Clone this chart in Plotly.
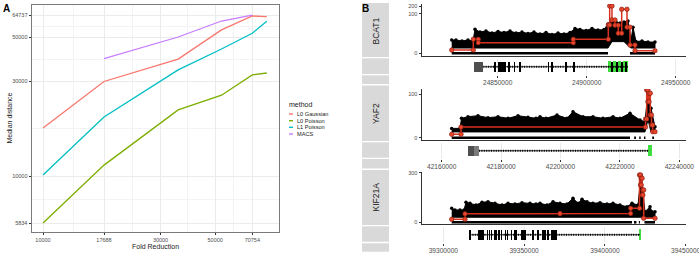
import numpy as np
import plotly.graph_objects as go

W, H = 699, 255
FONT = "Liberation Sans, Arial, Helvetica, sans-serif"


def fx(p):
    return p / W


def fy(p):
    return 1 - p / H


# ---------------- Panel A data ----------------
methods = ["L0 Gaussian", "L0 Poisson", "L1 Poisson", "MACS"]
fold_reduction = [10000, 17688, 35376, 53064, 70754, 81000]
l0_gaussian = [17500, 30000, 38900, 54500, 64000, 63500]
l0_poisson = [5834, 11400, 21600, 25600, 32400, 33100]
l1_poisson = [10160, 19900, 34300, 43700, 52400, 60300]
macs_fold_reduction = [17688, 35376, 53064, 70754]
macs = [39100, 50200, 60400, 64737]
x_ticks_A = [10000, 17688, 30000, 50000, 70754]
y_ticks_A = [5834, 10000, 30000, 50000, 64737]

# ---------------- Panel B data ----------------
gene_names = ["BCAT1", "YAF2", "KIF21A"]
pseudo = 3.0

# BCAT1
bcat1_env_pos = [24824160, 24826570, 24829940, 24833310, 24836120, 24837250, 24840060, 24843430,
                 24846800, 24850170, 24853540, 24856910, 24860280, 24863650, 24867020, 24870390,
                 24873760, 24877140, 24880510, 24883880, 24887250, 24890620, 24893430, 24896240,
                 24899610, 24902980, 24906350, 24909720, 24911970, 24914220, 24916460, 24918710,
                 24920960, 24923200, 24924890, 24926010, 24927700, 24931070, 24934440, 24938370]
bcat1_env_top = [6.8, 6.8, 6.0, 6.8, 6.0, 22.6, 17, 19, 15.4, 18, 16.2, 19, 15.4, 17, 14.6, 17,
                 13.8, 16.2, 13.1, 15.4, 13.8, 16.2, 24.5, 22, 20, 24.5, 21, 22, 38, 56, 46, 42,
                 46, 51, 6.8, 28, 5.6, 6.0, 5.2, 5.2]
bcat1_env_low = [1.8] * 29 + [5.5, 5.5, 5.5, 5.5, 3.0] + [1.8] * 6
bcat1_zero_start = [24824160, 24924330]
bcat1_zero_end = [24911970, 24938370]
bcat1_seg_bounds = [24824160, 24836290, 24839100, 24892470, 24912135, 24912920, 24914210,
                    24915900, 24917750, 24919660, 24922640, 24924330, 24927140, 24938370]
bcat1_seg_means = [1.0, 7.5, 4.7, 7.5, 34.5, 202, 56, 34, 15, 150, 28, 3.3, 0.8]
bcat1_intron = [24841910, 24923200]
bcat1_utr_start = [24836850]
bcat1_utr_end = [24841910]
bcat1_exon_start = [24848330, 24850580, 24851310, 24852100, 24853390, 24853950, 24856200,
                    24859180, 24862380, 24878280, 24880190, 24888220, 24892720, 24913900,
                    24916700, 24919510, 24921930]
bcat1_exon_end = [24848900, 24851000, 24851750, 24852550, 24853800, 24854400, 24856700,
                  24859650, 24862850, 24878750, 24880650, 24888650, 24893150, 24914400,
                  24917200, 24920000, 24922450]
bcat1_green_start = [24911970, 24914780, 24917590, 24920390]
bcat1_green_end = [24913650, 24916460, 24919270, 24923200]
bcat1_xticks = [24850000, 24900000, 24950000]
bcat1_yticks = [0, 100, 200]

# YAF2
yaf2_env_pos = [42163370, 42166160, 42166670, 42168860, 42172220, 42175590, 42178960, 42182320,
                42185690, 42189060, 42191750, 42193100, 42195120, 42198820, 42202190, 42204210,
                42207580, 42210940, 42214310, 42217680, 42220030, 42223400, 42226770, 42228450,
                42229460, 42230470, 42231820]
yaf2_env_top = [3.4, 3.4, 11.6, 13.6, 15, 12.3, 13.6, 11.6, 15, 12.8, 11.6, 13.6, 11.6, 16,
                11.6, 22, 13.6, 13.6, 11.6, 13.6, 11.6, 18.9, 9.7, 8, 120, 30, 4.3]
yaf2_env_low = [1.8] * 24 + [10, 1.8, 1.8]
yaf2_zero_start = [42163370, 42224800, 42226500, 42228100, 42230900]
yaf2_zero_end = [42223400, 42225400, 42227000, 42228600, 42231500]
yaf2_seg_bounds = [42163370, 42166500, 42228620, 42229020, 42229430, 42229830, 42230240,
                   42230640, 42231040, 42231820]
yaf2_seg_means = [0.95, 4.1, 10.8, 143, 53, 109, 16, 5.4, 1.9]
yaf2_intron = [42172560, 42229560]
yaf2_utr_start = [42168960, 42171040]
yaf2_utr_end = [42171040, 42172560]
yaf2_exon_start = []
yaf2_exon_end = []
yaf2_green_start = [42229360]
yaf2_green_end = [42230910]
yaf2_xticks = [42160000, 42180000, 42200000, 42220000, 42240000]
yaf2_yticks = [0, 100]

# KIF21A
kif21a_env_pos = [39305200, 39307240, 39310330, 39312810, 39314050, 39316520, 39320230, 39323950,
                  39327660, 39331990, 39336320, 39340040, 39344370, 39348700, 39353650, 39357360,
                  39359840, 39364170, 39367880, 39372210, 39376550, 39380260, 39383350, 39385830,
                  39388920, 39392630, 39396970, 39401300, 39405010, 39409340, 39413670, 39416770,
                  39420480, 39422340, 39424810, 39427910, 39429140, 39431000]
kif21a_env_top = [8.0, 6.4, 6.4, 6.4, 16.3, 14.6, 12, 16.3, 17.4, 14.6, 12, 14.6, 13.5, 15.6,
                  14.6, 13.5, 14.6, 12, 17.4, 14.6, 13.5, 25, 14.6, 22.5, 17.4, 14.6, 15.6, 13.5,
                  14.6, 12, 9.8, 14.6, 12, 240, 5, 9.8, 5, 5]
kif21a_env_low = [1.8] * 38
kif21a_zero_start = [39305200, 39418000, 39421000, 39424500]
kif21a_zero_end = [39416770, 39419500, 39421700, 39431000]
kif21a_seg_bounds = [39305200, 39313430, 39372210, 39415960, 39421410, 39422030, 39422520,
                     39423020, 39423510, 39424010, 39431000]
kif21a_seg_means = [0.97, 3.6, 3.8, 8.0, 242, 93, 177, 35, 58, 1.36]
kif21a_intron = [39316520, 39421720]
kif21a_utr_start = []
kif21a_utr_end = []
kif21a_exon_start = [39316200, 39321800, 39323050, 39324450, 39327150, 39328400, 39329650,
                     39331550, 39332700, 39334150, 39335800, 39338250, 39339500, 39342000,
                     39344000, 39345100, 39348150, 39349150, 39350200, 39355350, 39358450,
                     39361500, 39362600, 39364600, 39366700, 39367750, 39368800, 39369800]
kif21a_exon_end = [39316750, 39322300, 39323500, 39324950, 39327600, 39328850, 39330100,
                   39332150, 39333150, 39334600, 39336250, 39338700, 39339950, 39342450,
                   39344450, 39345550, 39348600, 39349600, 39350650, 39355800, 39358900,
                   39361950, 39363050, 39365050, 39367150, 39368200, 39369250, 39370250]
kif21a_green_start = [39421400]
kif21a_green_end = [39422400]
kif21a_xticks = [39300000, 39350000, 39400000, 39450000]
kif21a_yticks = [0, 300]


def tr(v):
    return np.log10(1 + np.asarray(v, dtype=float) / pseudo)


genes = [
    dict(name="BCAT1", env_pos=bcat1_env_pos, env_top=bcat1_env_top, env_low=bcat1_env_low,
         zs=bcat1_zero_start, ze=bcat1_zero_end, sb=bcat1_seg_bounds, sm=bcat1_seg_means,
         intron=bcat1_intron, us=bcat1_utr_start, ue=bcat1_utr_end, es=bcat1_exon_start,
         ee=bcat1_exon_end, gs=bcat1_green_start, ge=bcat1_green_end,
         xt=bcat1_xticks, yt=bcat1_yticks),
    dict(name="YAF2", env_pos=yaf2_env_pos, env_top=yaf2_env_top, env_low=yaf2_env_low,
         zs=yaf2_zero_start, ze=yaf2_zero_end, sb=yaf2_seg_bounds, sm=yaf2_seg_means,
         intron=yaf2_intron, us=yaf2_utr_start, ue=yaf2_utr_end, es=yaf2_exon_start,
         ee=yaf2_exon_end, gs=yaf2_green_start, ge=yaf2_green_end,
         xt=yaf2_xticks, yt=yaf2_yticks),
    dict(name="KIF21A", env_pos=kif21a_env_pos, env_top=kif21a_env_top, env_low=kif21a_env_low,
         zs=kif21a_zero_start, ze=kif21a_zero_end, sb=kif21a_seg_bounds, sm=kif21a_seg_means,
         intron=kif21a_intron, us=kif21a_utr_start, ue=kif21a_utr_end, es=kif21a_exon_start,
         ee=kif21a_exon_end, gs=kif21a_green_start, ge=kif21a_green_end,
         xt=kif21a_xticks, yt=kif21a_yticks),
]

# layout geometry (pixels)
sig_dom = [(4, 56), (89, 139.5), (172, 224)]
sig_yrange = [(-0.105, 1.912), (-0.064, 1.723), (-0.069, 2.032)]
gene_dom = [(59, 74.5), (143, 158.5), (227, 242.5)]
x_ranges = [(24807470, 24955790), (42153370, 42242256), (39286820, 39450183)]
strip_rows = [[(3, 57), (58.3, 74), (75.3, 84)],
              [(85.5, 141), (142.3, 157.7), (159, 168.5)],
              [(170, 225), (226.3, 241.7), (243.3, 251.7)]]
strip_label_y = [31, 113.5, 197]

fig = go.Figure()

# ---------------- Panel A traces ----------------
colors = {"L0 Gaussian": "#F8766D", "L0 Poisson": "#7CAE00",
          "L1 Poisson": "#00BFC4", "MACS": "#C77CFF"}
series_A = [("L0 Gaussian", fold_reduction, l0_gaussian),
            ("L0 Poisson", fold_reduction, l0_poisson),
            ("L1 Poisson", fold_reduction, l1_poisson),
            ("MACS", macs_fold_reduction, macs)]
for name, xs, ys in series_A:
    fig.add_trace(go.Scatter(x=xs, y=ys, mode="lines", name=name,
                             line=dict(color=colors[name], width=1.3),
                             xaxis="x", yaxis="y", showlegend=False))

# ---------------- Panel B traces ----------------
RED_LINE = "#D9311F"
RED_PT = "#E8452C"
for i, g in enumerate(genes):
    sx, sy = f"x{2 + 2 * i}", f"y{2 + 2 * i}"
    gx, gy = f"x{3 + 2 * i}", f"y{3 + 2 * i}"
    pos = list(g["env_pos"])
    top = [float(v) for v in tr(g["env_top"])]
    low = [float(v) for v in tr(g["env_low"])]
    fig.add_trace(go.Scatter(x=pos + pos[::-1], y=top + low[::-1], fill="toself",
                             fillcolor="black", mode="lines",
                             line=dict(color="black", width=1),
                             xaxis=sx, yaxis=sy, hoverinfo="skip"))
    fig.add_trace(go.Scatter(x=pos, y=top, mode="markers",
                             marker=dict(color="black", size=3.5),
                             xaxis=sx, yaxis=sy, hoverinfo="skip"))
    zx, zy = [], []
    for a, b in zip(g["zs"], g["ze"]):
        zx += [a, b, None]
        zy += [0, 0, None]
    fig.add_trace(go.Scatter(x=zx, y=zy, mode="lines",
                             line=dict(color="black", width=2.6),
                             xaxis=sx, yaxis=sy, hoverinfo="skip"))
    vx, vy = [], []
    for k, m in enumerate(g["sm"]):
        vx += [g["sb"][k], g["sb"][k + 1]]
        vy += [m, m]
    fig.add_trace(go.Scatter(x=vx, y=[float(v) for v in tr(vy)], mode="lines+markers",
                             line=dict(color=RED_LINE, width=1.5),
                             marker=dict(color=RED_PT, size=4.5,
                                         line=dict(color="#7A1A0E", width=0.6)),
                             xaxis=sx, yaxis=sy, hoverinfo="skip"))
    # gene model
    fig.add_trace(go.Scatter(x=g["intron"], y=[0.5, 0.5], mode="lines",
                             line=dict(color="black", width=0.8),
                             xaxis=gx, yaxis=gy, hoverinfo="skip"))
    fig.add_trace(go.Scatter(x=g["intron"], y=[0.5, 0.5], mode="lines",
                             line=dict(color="black", width=2.2, dash="1px,1.4px"),
                             xaxis=gx, yaxis=gy, hoverinfo="skip"))

    def bars(starts, ends, color, base, height):
        if not starts:
            return
        c = [(a + b) / 2 for a, b in zip(starts, ends)]
        w = [b - a for a, b in zip(starts, ends)]
        fig.add_trace(go.Bar(x=c, y=[height] * len(c), base=[base] * len(c), width=w,
                             marker=dict(color=color, line=dict(width=0)),
                             xaxis=gx, yaxis=gy, hoverinfo="skip"))

    if g["us"]:
        cols = ["#4F4F4F", "#7A7A7A"]
        for k in range(len(g["us"])):
            bars([g["us"][k]], [g["ue"][k]], cols[k % 2], 0.19, 0.62)
    bars(g["gs"], g["ge"], "#3FDC3F", 0.14, 0.74)
    bars(g["es"], g["ee"], "black", 0.19, 0.62)

# ---------------- Layout ----------------
layout = dict(
    template="none",
    width=W, height=H, autosize=False,
    margin=dict(l=0, r=0, t=0, b=0, pad=0),
    paper_bgcolor="white", plot_bgcolor="white",
    showlegend=False, barmode="overlay", bargap=0,
    font=dict(family=FONT, color="#1A1A1A"),
)

xminor = [float(np.sqrt(a * b)) for a, b in zip(x_ticks_A[:-1], x_ticks_A[1:])]
yminor = [float(np.sqrt(a * b)) for a, b in zip(y_ticks_A[:-1], y_ticks_A[1:])]
common_A = dict(type="log", ticks="outside", ticklen=2.5, tickcolor="#333333", tickwidth=0.8,
                tickfont=dict(size=5.5, color="#4D4D4D", family=FONT),
                showgrid=True, gridcolor="#EBEBEB", gridwidth=0.9,
                showline=True, mirror=True, linecolor="#7A7A7A", linewidth=0.9,
                zeroline=False)
layout["xaxis"] = dict(common_A, domain=[fx(32), fx(279)], range=[3.9553, 4.9582],
                       tickvals=x_ticks_A, ticktext=[str(v) for v in x_ticks_A],
                       minor=dict(tickvals=xminor, showgrid=True, gridcolor="#F3F3F3",
                                  gridwidth=0.6, ticks=""),
                       anchor="y")
layout["yaxis"] = dict(common_A, domain=[fy(232), fy(5)], range=[3.7208, 4.8615],
                       tickvals=y_ticks_A, ticktext=[str(v) for v in y_ticks_A],
                       minor=dict(tickvals=yminor, showgrid=True, gridcolor="#F3F3F3",
                                  gridwidth=0.6, ticks=""),
                       anchor="x")

for i, g in enumerate(genes):
    ns, ng = 2 + 2 * i, 3 + 2 * i
    layout[f"xaxis{ns}"] = dict(domain=[fx(422), fx(686)], range=list(x_ranges[i]),
                                anchor=f"y{ns}", showline=True, linecolor="#333333",
                                linewidth=1, ticks="", showticklabels=False,
                                showgrid=False, zeroline=False)
    layout[f"yaxis{ns}"] = dict(domain=[fy(sig_dom[i][1]), fy(sig_dom[i][0])],
                                range=list(sig_yrange[i]), anchor=f"x{ns}",
                                showline=True, linecolor="#333333", linewidth=1,
                                ticks="outside", ticklen=2.5, tickcolor="#333333",
                                tickwidth=0.8,
                                tickvals=[float(v) for v in tr(g["yt"])],
                                ticktext=[str(v) for v in g["yt"]],
                                tickfont=dict(size=5.5, color="#4D4D4D", family=FONT),
                                showgrid=False, zeroline=False)
    layout[f"xaxis{ng}"] = dict(domain=[fx(422), fx(686)], range=list(x_ranges[i]),
                                matches=f"x{ns}", anchor=f"y{ng}", showline=False,
                                ticks="outside", ticklen=2, tickcolor="#333333",
                                tickwidth=0.8, ticklabeloverflow="allow",
                                tickvals=g["xt"], ticktext=[str(v) for v in g["xt"]],
                                tickfont=dict(size=6.6, color="#4D4D4D", family=FONT),
                                showgrid=True, gridcolor="#EAEAEA", gridwidth=0.8,
                                zeroline=False)
    layout[f"yaxis{ng}"] = dict(domain=[fy(gene_dom[i][1]), fy(gene_dom[i][0])],
                                range=[0, 1], anchor=f"x{ng}", visible=False)

shapes = []
annotations = []
# strips
for i, rows in enumerate(strip_rows):
    for (a, b) in rows:
        shapes.append(dict(type="rect", xref="paper", yref="paper",
                           x0=fx(362), x1=fx(389), y0=fy(b), y1=fy(a),
                           fillcolor="#D9D9D9", line=dict(width=0), layer="below"))
    annotations.append(dict(text=gene_names[i], xref="paper", yref="paper",
                            x=fx(375.5), y=fy(strip_label_y[i]), showarrow=False,
                            textangle=-90, font=dict(size=8.5, color="#1A1A1A", family=FONT),
                            xanchor="center", yanchor="middle"))

# legend (manual)
annotations.append(dict(text="method", xref="paper", yref="paper", x=fx(287), y=fy(104),
                        showarrow=False, xanchor="left", yanchor="middle",
                        font=dict(size=7, color="#1A1A1A", family=FONT)))
leg_y = [114, 120.7, 127.3, 134]
for name, ly in zip(methods, leg_y):
    shapes.append(dict(type="line", xref="paper", yref="paper", x0=fx(289), x1=fx(293),
                       y0=fy(ly), y1=fy(ly), line=dict(color=colors[name], width=1.4)))
    annotations.append(dict(text=name, xref="paper", yref="paper", x=fx(294.5), y=fy(ly),
                            showarrow=False, xanchor="left", yanchor="middle",
                            font=dict(size=5.6, color="#1A1A1A", family=FONT)))

# axis titles panel A
annotations.append(dict(text="Fold Reduction", xref="paper", yref="paper", x=fx(155.5),
                        y=fy(246), showarrow=False, xanchor="center", yanchor="middle",
                        font=dict(size=7, color="#1A1A1A", family=FONT)))
annotations.append(dict(text="Median distance", xref="paper", yref="paper", x=fx(8.5),
                        y=fy(118), showarrow=False, xanchor="center", yanchor="middle",
                        textangle=-90, font=dict(size=7, color="#1A1A1A", family=FONT)))
# panel labels
annotations.append(dict(text="<b>A</b>", xref="paper", yref="paper", x=fx(6), y=fy(8),
                        showarrow=False, xanchor="center", yanchor="middle",
                        font=dict(size=10, color="black", family=FONT)))
annotations.append(dict(text="<b>B</b>", xref="paper", yref="paper", x=fx(365.5), y=fy(8),
                        showarrow=False, xanchor="center", yanchor="middle",
                        font=dict(size=10, color="black", family=FONT)))

layout["shapes"] = shapes
layout["annotations"] = annotations
fig.update_layout(**layout)

fig.write_html("out.html", config={"displayModeBar": False},
               post_script="document.body.style.margin='0';")
